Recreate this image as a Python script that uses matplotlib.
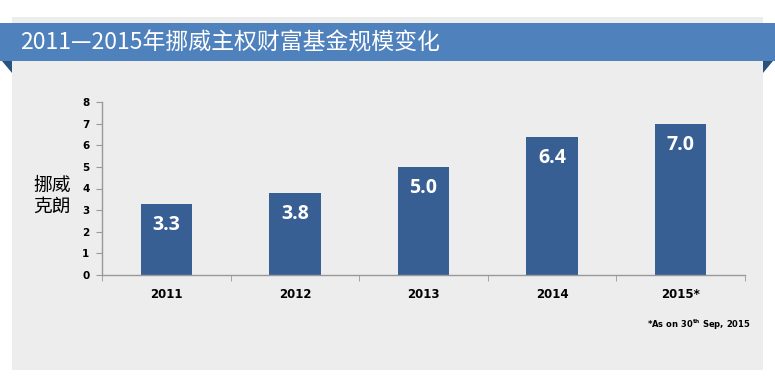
import matplotlib.pyplot as plt
from matplotlib.patches import Rectangle, Polygon

plt.rcParams['font.family'] = ['Noto Sans CJK SC', 'DejaVu Sans']

# data
years = ["2011", "2012", "2013", "2014", "2015*"]
values = [3.3, 3.8, 5.0, 6.4, 7.0]
value_labels = ["3.3", "3.8", "5.0", "6.4", "7.0"]
y_ticks = [0, 1, 2, 3, 4, 5, 6, 7, 8]

title = "2011—2015年挪威主权财富基金规模变化"
y_label = "挪威\n克朗"
footnote = r"*As on 30$^{\mathbf{th}}$ Sep, 2015"

BAR_COLOR = "#385f94"
BANNER_COLOR = "#4f81bd"
FOLD_COLOR = "#2a527f"
PANEL_COLOR = "#ededed"

W, H = 775, 388
fig = plt.figure(figsize=(W / 100, H / 100), dpi=100)
fig.patch.set_facecolor("white")


def px(x, y):
    # pixel coords (from top-left) -> figure fraction
    return x / W, 1 - y / H


# grey panel
x0, y0 = px(12, 370)
x1, y1 = px(763, 17)
fig.patches.append(Rectangle((x0, y0), x1 - x0, y1 - y0, transform=fig.transFigure,
                             facecolor=PANEL_COLOR, edgecolor="none", zorder=-3))
# banner
bx0, by0 = px(0, 61)
bx1, by1 = px(775, 23)
fig.patches.append(Rectangle((bx0, by0), bx1 - bx0, by1 - by0, transform=fig.transFigure,
                             facecolor=BANNER_COLOR, edgecolor="none", zorder=-2))
fig.patches.append(Polygon([px(2, 61), px(12, 61), px(12, 73)], closed=True,
                           transform=fig.transFigure, facecolor=FOLD_COLOR,
                           edgecolor="none", zorder=-2))
fig.patches.append(Polygon([px(773, 61), px(763, 61), px(763, 73)], closed=True,
                           transform=fig.transFigure, facecolor=FOLD_COLOR,
                           edgecolor="none", zorder=-2))
tx, ty = px(20, 43)
fig.text(tx, ty, title, color="white", fontsize=16.5, va="center", ha="left", zorder=2)

# axes
ax0, ay0 = px(102, 275)
ax1, ay1 = px(745, 102)
ax = fig.add_axes([ax0, ay0, ax1 - ax0, ay1 - ay0])
ax.set_zorder(3)
ax.set_facecolor("none")

xs = range(len(years))
bars = ax.bar(xs, values, width=0.4, color=BAR_COLOR, zorder=2)
for b, lab in zip(bars, value_labels):
    ax.annotate(lab, (b.get_x() + b.get_width() / 2, b.get_height()),
                xytext=(0, -8), textcoords="offset points", ha="center", va="top",
                color="white", fontsize=14, fontweight="bold", family="Open Sans")

ax.set_xlim(-0.5, len(years) - 0.5)
ax.set_ylim(0, 8)
ax.set_yticks(y_ticks)
ax.set_yticklabels([str(t) for t in y_ticks], fontsize=7.5, fontweight="bold",
                   family="DejaVu Sans")
ax.set_xticks(list(xs))
ax.set_xticklabels(years, fontsize=8.5, fontweight="bold", family="DejaVu Sans")
ax.set_xticks([i - 0.5 for i in range(len(years) + 1)], minor=True)
ax.tick_params(axis="x", which="major", length=0, pad=9)
ax.tick_params(axis="x", which="minor", length=4, color="#999999")
ax.tick_params(axis="y", length=4, color="#999999", pad=5)
for s in ["top", "right"]:
    ax.spines[s].set_visible(False)
for s in ["left", "bottom"]:
    ax.spines[s].set_color("#999999")
    ax.spines[s].set_linewidth(1)

lx, ly = px(52, 196)
fig.text(lx, ly, y_label, fontsize=13.5, ha="center", va="center", linespacing=1.0)

fx, fy = px(751, 325)
fig.text(fx, fy, footnote, fontsize=6, fontweight="bold", ha="right", va="center",
         family="DejaVu Sans")

fig.savefig("out.png", dpi=100, facecolor=fig.get_facecolor())
